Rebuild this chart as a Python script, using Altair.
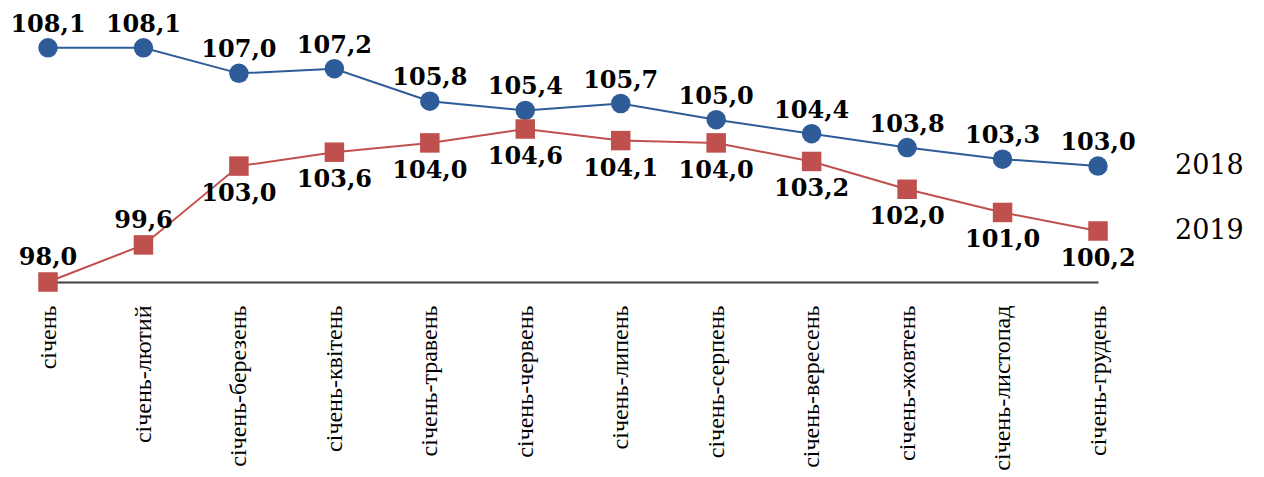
import altair as alt
import pandas as pd

months = ["січень", "січень-лютий", "січень-березень", "січень-квітень",
          "січень-травень", "січень-червень", "січень-липень", "січень-серпень",
          "січень-вересень", "січень-жовтень", "січень-листопад", "січень-грудень"]
values_2018 = [108.1, 108.1, 107.0, 107.2, 105.8, 105.4, 105.7, 105.0, 104.4, 103.8, 103.3, 103.0]
values_2019 = [98.0, 99.6, 103.0, 103.6, 104.0, 104.6, 104.1, 104.0, 103.2, 102.0, 101.0, 100.2]
years = ["2018", "2019"]

rows = []
for yr, vals in zip(years, [values_2018, values_2019]):
    for i, (m, v) in enumerate(zip(months, vals)):
        rows.append({"month": m, "idx": i, "year": yr, "value": v,
                     "label": f"{v:.1f}".replace(".", ",")})
df = pd.DataFrame(rows)

x = alt.X("month:N", sort=months,
          scale=alt.Scale(type="point", padding=0),
          axis=alt.Axis(title=None, labelAngle=-90, labelAlign="right", labelBaseline="middle",
                        labelPadding=23, ticks=False, domainColor="#404040", domainWidth=2,
                        labelFont="Liberation Serif", labelFontSize=24, labelColor="#000000",
                        grid=False, labelOverlap=False))
y = alt.Y("value:Q", scale=alt.Scale(domain=[98, 109], nice=False, zero=False), axis=None)

line_color = alt.Color("year:N", scale=alt.Scale(domain=years, range=["#2E5C99", "#C0504D"]), legend=None)
pt_color = alt.Color("year:N", scale=alt.Scale(domain=years, range=["#1F4A7E", "#C0504D"]), legend=None)

base = alt.Chart(df)
lines = base.mark_line(strokeWidth=2).encode(x=x, y=y, color=line_color, detail="year:N")
points = base.mark_point(filled=True, size=380, opacity=1).encode(
    x=x, y=y, color=pt_color,
    shape=alt.Shape("year:N", scale=alt.Scale(domain=years, range=["circle", "square"]), legend=None))

txt = dict(font="DejaVu Serif", fontWeight="bold", fontSize=24, color="#000000", align="center")
lab_2018 = base.mark_text(dy=-23, baseline="middle", **txt).encode(x=x, y=y, text="label:N").transform_filter(
    "datum.year == '2018'")
lab_2019_up = base.mark_text(dy=-24, baseline="middle", **txt).encode(x=x, y=y, text="label:N").transform_filter(
    "datum.year == '2019' && datum.idx < 2")
lab_2019_dn = base.mark_text(dy=28, baseline="middle", **txt).encode(x=x, y=y, text="label:N").transform_filter(
    "datum.year == '2019' && datum.idx >= 2")
year_lab = base.mark_text(dx=77, align="left", baseline="middle", font="DejaVu Serif",
                          fontSize=27, color="#000000").encode(x=x, y=y, text="year:N").transform_filter(
    "datum.idx == 11")

chart = alt.layer(lines, points, lab_2018, lab_2019_up, lab_2019_dn, year_lab).properties(
    width=1050, height=255,
    autosize=alt.AutoSizeParams(type="none"),
    padding={"left": 40, "top": 19, "right": 150, "bottom": 195},
    background="#ffffff",
).configure_view(stroke=None)

chart.save("out.html", embed_options={"renderer": "svg", "actions": False})
